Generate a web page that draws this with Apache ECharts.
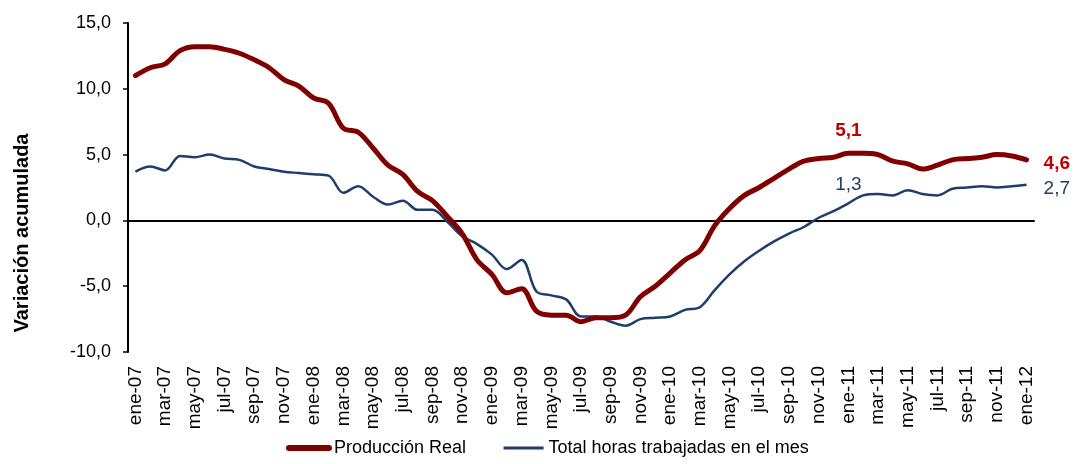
<!DOCTYPE html>
<html>
<head>
<meta charset="utf-8">
<script src="https://cdn.jsdelivr.net/npm/echarts@6/dist/echarts.min.js"></script>
<style>
  html, body { margin: 0; padding: 0; background: #fff; }
  #chart { width: 1074px; height: 464px; }
</style>
</head>
<body>
<div id="chart"></div>
<script>
const months = [
  'ene-07', 'feb-07', 'mar-07', 'abr-07', 'may-07', 'jun-07', 'jul-07', 'ago-07', 'sep-07', 'oct-07', 'nov-07', 'dic-07',
  'ene-08', 'feb-08', 'mar-08', 'abr-08', 'may-08', 'jun-08', 'jul-08', 'ago-08', 'sep-08', 'oct-08', 'nov-08', 'dic-08',
  'ene-09', 'feb-09', 'mar-09', 'abr-09', 'may-09', 'jun-09', 'jul-09', 'ago-09', 'sep-09', 'oct-09', 'nov-09', 'dic-09',
  'ene-10', 'feb-10', 'mar-10', 'abr-10', 'may-10', 'jun-10', 'jul-10', 'ago-10', 'sep-10', 'oct-10', 'nov-10', 'dic-10',
  'ene-11', 'feb-11', 'mar-11', 'abr-11', 'may-11', 'jun-11', 'jul-11', 'ago-11', 'sep-11', 'oct-11', 'nov-11', 'dic-11',
  'ene-12'
]

// Producción Real
const produccion = [
  11.0, 11.6, 11.9, 12.9, 13.2, 13.2, 13.0, 12.7, 12.2, 11.6, 10.7, 10.2,
  9.3, 8.9, 7.0, 6.7, 5.5, 4.2, 3.5, 2.2, 1.5, 0.3, -1.0, -3.0,
  -4.1, -5.5, -5.2, -6.9, -7.2, -7.2, -7.7, -7.4, -7.4, -7.2, -5.8, -5.0,
  -4.0, -3.0, -2.3, -0.4, 0.9, 1.9, 2.5, 3.2, 3.9, 4.5, 4.7, 4.8,
  5.1, 5.1, 5.0, 4.5, 4.3, 3.9, 4.2, 4.6, 4.7, 4.8, 5.0, 4.9,
  4.6
]

// Total horas trabajadas en el mes
const horas = [
  3.7, 4.1, 3.8, 4.9, 4.8, 5.0, 4.7, 4.6, 4.1, 3.9, 3.7, 3.6,
  3.5, 3.4, 2.1, 2.6, 1.8, 1.2, 1.5, 0.8, 0.8, -0.1, -1.2, -1.8,
  -2.6, -3.7, -3.0, -5.4, -5.7, -6.0, -7.3, -7.3, -7.7, -8.0, -7.5, -7.4,
  -7.3, -6.8, -6.6, -5.3, -4.1, -3.1, -2.3, -1.6, -1.0, -0.5, 0.2, 0.7,
  1.3, 1.9, 2.0, 1.9, 2.3, 2.0, 1.9, 2.4, 2.5, 2.6, 2.5, 2.6,
  2.7
]

const labelIdx = 48
const lastIdx = months.length - 1

const fmt = v => Number(v).toFixed(1).replace('.', ',')
const font = 'Liberation Sans, Arial, sans-serif'
const red = '#800000'
const redLabel = '#C00000'
const blue = '#1F3D6B'

const myChart = echarts.init(document.getElementById('chart'))

myChart.setOption({
  animation: false,
  textStyle: { fontFamily: font, color: '#000' },
  grid: { left: 128, right: 40, top: 23, bottom: 112 },
  legend: {
    bottom: 2,
    left: 281,
    itemWidth: 40,
    itemHeight: 14,
    itemGap: 36,
    itemStyle: { opacity: 0 },
    textStyle: { fontSize: 18, color: '#000', fontFamily: font },
    data: [
      { name: 'Producción Real', lineStyle: { width: 6, cap: 'round', color: red } },
      { name: 'Total horas trabajadas en el mes', lineStyle: { width: 3, color: blue } }
    ]
  },
  graphic: [
    {
      type: 'text',
      x: 22,
      y: 233,
      rotation: Math.PI / 2,
      style: {
        text: 'Variación acumulada',
        font: 'bold 20px ' + font,
        fill: '#000',
        align: 'center',
        verticalAlign: 'middle'
      }
    }
  ],
  xAxis: [
    {
      type: 'category',
      data: months,
      boundaryGap: true,
      axisLine: { onZero: true, lineStyle: { color: '#000', width: 2 } },
      axisTick: { interval: 1, length: 5, lineStyle: { color: '#000', width: 1.5 } },
      axisLabel: { show: false },
      splitLine: { show: false }
    },
    {
      type: 'category',
      data: months,
      position: 'bottom',
      boundaryGap: true,
      axisLine: { show: false, onZero: false },
      axisTick: { show: false },
      axisLabel: {
        interval: 1,
        rotate: 90,
        margin: 14,
        fontSize: 19,
        color: '#000',
        fontFamily: font
      },
      splitLine: { show: false }
    }
  ],
  yAxis: {
    type: 'value',
    min: -10,
    max: 15,
    interval: 5,
    axisLine: { show: true, lineStyle: { color: '#000', width: 2 } },
    axisTick: { show: true, length: 5, lineStyle: { color: '#000', width: 1.5 } },
    splitLine: { show: false },
    axisLabel: {
      formatter: fmt,
      fontSize: 18,
      margin: 17,
      color: '#000',
      fontFamily: font
    }
  },
  series: [
    {
      name: 'Producción Real',
      type: 'line',
      xAxisIndex: 0,
      data: produccion,
      smooth: 0.35,
      symbol: 'none',
      z: 3,
      lineStyle: { color: red, width: 5, cap: 'round', join: 'round' },
      itemStyle: { color: red },
      markPoint: {
        symbol: 'circle',
        symbolSize: 0,
        label: {
          show: true,
          formatter: p => fmt(p.value),
          color: redLabel,
          fontWeight: 'bold',
          fontSize: 19,
          fontFamily: font
        },
        data: [
          {
            coord: [months[labelIdx], produccion[labelIdx]],
            value: produccion[labelIdx],
            label: { position: 'top', distance: 13 }
          },
          {
            coord: [months[lastIdx], produccion[lastIdx]],
            value: produccion[lastIdx],
            label: { position: 'right', distance: 17, offset: [0, 4] }
          }
        ]
      }
    },
    {
      name: 'Total horas trabajadas en el mes',
      type: 'line',
      xAxisIndex: 0,
      data: horas,
      smooth: 0.35,
      symbol: 'none',
      z: 2,
      lineStyle: { color: blue, width: 2.5, join: 'round' },
      itemStyle: { color: blue },
      markPoint: {
        symbol: 'circle',
        symbolSize: 0,
        label: {
          show: true,
          formatter: p => fmt(p.value),
          color: blue,
          fontSize: 19,
          fontFamily: font
        },
        data: [
          {
            coord: [months[labelIdx], horas[labelIdx]],
            value: horas[labelIdx],
            label: { position: 'top', distance: 9 }
          },
          {
            coord: [months[lastIdx], horas[lastIdx]],
            value: horas[lastIdx],
            label: { position: 'right', distance: 17, offset: [0, 4] }
          }
        ]
      }
    }
  ]
})

window.addEventListener('resize', () => {
  myChart.resize()
})
</script>
</body>
</html>
